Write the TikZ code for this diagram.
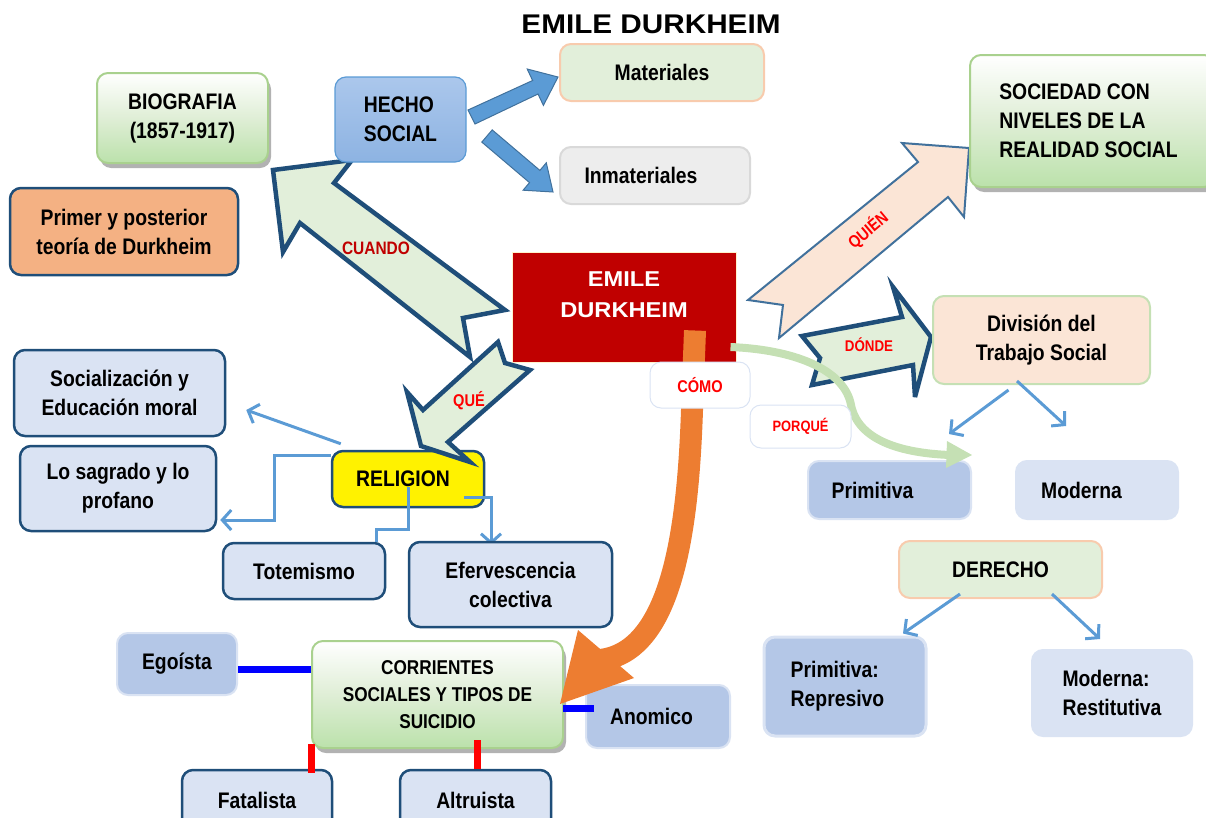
\documentclass[tikz,border=0pt]{standalone}
\usepackage{fontspec}
\setmainfont{Liberation Sans}[FakeStretch=0.86]
\newfontfamily\widefont{Liberation Sans}[FakeStretch=1.1]
\usetikzlibrary{arrows.meta,calc,shadows}
\definecolor{dblue}{HTML}{1F4E79}
\definecolor{lblue}{HTML}{DAE3F3}
\definecolor{mblue}{HTML}{B4C7E7}
\definecolor{sblue}{HTML}{5B9BD5}
\definecolor{hbdark}{HTML}{41719C}
\definecolor{hbtop}{HTML}{ABC7EC}
\definecolor{hbbot}{HTML}{8DB3E2}
\definecolor{pgreen}{HTML}{E2EFDA}
\definecolor{lgreen}{HTML}{C5E0B4}
\definecolor{mgreen}{HTML}{A9D18E}
\definecolor{peach}{HTML}{F8CBAD}
\definecolor{lpeach}{HTML}{FBE5D6}
\definecolor{orng}{HTML}{F4B183}
\definecolor{dorange}{HTML}{ED7D31}
\definecolor{dred}{HTML}{C00000}
\definecolor{qred}{HTML}{FF0000}
\definecolor{lgray}{HTML}{EDEDED}
\definecolor{mgray}{HTML}{D9D9D9}
\definecolor{cream}{HTML}{FFF2CC}
\definecolor{pureblue}{HTML}{0000FF}
\pgfdeclarelayer{bg}
\pgfdeclarelayer{conn}
\pgfdeclarelayer{fg}
\pgfsetlayers{bg,main,conn,fg}
\tikzset{
  bx/.style={rounded corners=11pt, inner sep=0pt, align=center, line width=2pt,
    font=\bfseries\fontsize{22.5}{29}\selectfont},
  navybox/.style={bx, fill=lblue, draw=dblue, line width=2.5pt},
  greenshade/.style={bx, top color=white, bottom color=lgreen!95!green, middle color=lgreen!55!white,
    draw=mgreen, drop shadow={shadow xshift=3pt, shadow yshift=-5pt, fill=black!55, opacity=0.55}},
  bigarr/.style={fill=pgreen, draw=dblue, line width=4.5pt, line join=miter, miter limit=6},
  blockarr/.style={fill=sblue, draw=hbdark, line width=1pt},
  thinarr/.style={draw=sblue, line width=3pt, -{Straight Barb[length=9pt,width=20pt]}},
  thinln/.style={draw=sblue, line width=3pt},
  bline/.style={draw=pureblue, line width=7pt},
  rline/.style={draw=qred, line width=7pt},
  qlabel/.style={font=\bfseries\fontsize{17}{18}\selectfont, text=qred, inner sep=0pt},
}
\begin{document}
\begin{tikzpicture}[x=1pt,y=-1pt]
\useasboundingbox (0,0) rectangle (1206,817);

% ---------- background arrows ----------
\begin{pgfonlayer}{bg}
\draw[bigarr] (273,170) -- (352,160) -- (334,183) -- (505,310) -- (463,318) -- (470,357)
  -- (423,320) -- (300,223) -- (283,252) -- cycle;
\draw[fill=lpeach, draw=hbdark, line width=2pt, line join=miter]
  (969,148) -- (902,143) -- (918,162) -- (748,300) -- (783,305) -- (779,338)
  -- (948,197) -- (964,217) -- cycle;
\draw[bigarr] (802,336) -- (902,317) -- (893,287) -- (931,337) -- (915,397) -- (913,365)
  -- (812,385) -- (820,358) -- cycle;
\draw[blockarr] (475,124) -- (538,94) -- (543.4,105.4) -- (558,77) -- (527.2,69)
  -- (532.6,80.5) -- (468,110) -- cycle;
\draw[blockarr] (481.8,142.1) -- (529.5,182.6) -- (523.1,190.2) -- (553,192) -- (546.3,162.8)
  -- (539.9,170.4) -- (492.2,129.9) -- cycle;
\end{pgfonlayer}

% ---------- title ----------
\node[font=\widefont\bfseries\fontsize{27}{30}\selectfont] (title) at (651,24) {EMILE DURKHEIM};

% ---------- boxes ----------
\node[greenshade, minimum width=171pt, minimum height=90pt] (bio) at (182.5,118) {BIOGRAFIA\\(1857-1917)};
\node[bx, fill=orng, draw=dblue, line width=2.5pt, minimum width=228pt, minimum height=87pt] (primer) at (124,231.5) {Primer y posterior\\teoría de Durkheim};
\node[bx, top color=hbtop, bottom color=hbbot, draw=sblue, line width=1.2pt, minimum width=131pt, minimum height=85pt, align=left] (hecho) at (400.5,119.5) {HECHO\\SOCIAL};
\node[bx, fill=pgreen, draw=peach, minimum width=204pt, minimum height=57pt] (mat) at (662,72.5) {Materiales};
\node[bx, fill=lgray, draw=mgray, minimum width=190pt, minimum height=57pt] (inmat) at (655,175.5) {Inmateriales\hspace*{28pt}};
\node[greenshade, minimum width=245pt, minimum height=132pt, align=left] (soc) at (1092.5,121) {SOCIEDAD CON\\NIVELES DE LA\\REALIDAD SOCIAL\hspace*{8pt}};
\node[bx, rounded corners=0pt, fill=dred, draw=cream, line width=1pt, minimum width=224pt, minimum height=110pt,
  font=\widefont\bfseries\fontsize{21.5}{31}\selectfont, text=white, text depth=24pt] (emile) at (624,307) {EMILE\\DURKHEIM};
\node[bx, fill=lpeach, draw=lgreen, minimum width=217pt, minimum height=88pt] (div) at (1041.5,340) {División del\\Trabajo Social};
\node[bx, fill=mblue, draw=lblue, minimum width=163pt, minimum height=58pt] (prim1) at (889.5,490) {Primitiva\hspace*{34pt}};
\node[bx, fill=lblue, draw=lblue, minimum width=162pt, minimum height=58pt] (mod1) at (1097,490) {Moderna\hspace*{31pt}};
\node[bx, fill=pgreen, draw=peach, minimum width=203pt, minimum height=57pt] (der) at (1000.5,569.5) {DERECHO};
\node[bx, fill=mblue, draw=lblue, line width=3pt, minimum width=162pt, minimum height=99pt, align=left] (prim2) at (845,686.5) {Primitiva:\\Represivo\hspace*{15pt}};
\node[bx, fill=lblue, draw=lblue, minimum width=160pt, minimum height=86pt, align=left] (mod2) at (1112,693) {Moderna:\\Restitutiva};
\node[navybox, minimum width=211pt, minimum height=86pt] (socz) at (119.5,393) {Socialización y\\Educación moral};
\node[navybox, minimum width=196pt, minimum height=85pt] (sagr) at (118,488.5) {Lo sagrado y lo\\profano};
\node[navybox, fill=yellow, minimum width=152pt, minimum height=56pt] (rel) at (408,479) {RELIGION\hspace*{10pt}};
\node[greenshade, font=\bfseries\fontsize{20}{27}\selectfont, minimum width=251pt, minimum height=107pt] (corr) at (437.5,694.5) {CORRIENTES\\SOCIALES Y TIPOS DE\\SUICIDIO};
\node[bx, fill=mblue, draw=lblue, minimum width=120pt, minimum height=62pt] (ego) at (177,664) {Egoísta};
\node[bx, fill=mblue, draw=lblue, minimum width=144pt, minimum height=63pt] (anom) at (658,716.5) {Anomico\hspace*{13pt}};
\node[navybox, minimum width=150pt, minimum height=60pt] (fat) at (257,800) {Fatalista};
\node[navybox, minimum width=151pt, minimum height=60pt] (alt) at (475.5,800) {Altruista};

% ---------- foreground boxes ----------
\begin{pgfonlayer}{fg}
\node[navybox, minimum width=162pt, minimum height=56pt] (tot) at (304,571) {Totemismo};
\node[navybox, minimum width=203pt, minimum height=85pt] (efer) at (510.5,584.5) {Efervescencia\\colectiva};
\node[bx, fill=white, draw=lblue, line width=1pt, minimum width=100pt, minimum height=46pt,
  font=\bfseries\fontsize{17}{20}\selectfont, text=qred] (como) at (700,385) {CÓMO};
\node[bx, fill=white, draw=lblue, line width=1pt, minimum width=101pt, minimum height=43pt,
  font=\bfseries\fontsize{15}{18}\selectfont, text=qred] (porque) at (800.5,426.5) {PORQUÉ};
\node[qlabel, text=dred, font=\bfseries\fontsize{18}{18}\selectfont] (lcuando) at (376,248) {CUANDO};
\node[qlabel] (lque) at (469,401) {QUÉ};
\node[qlabel, font=\bfseries\fontsize{15.5}{18}\selectfont] (ldonde) at (869,345) {DÓNDE};
\node[qlabel, rotate=40, font=\bfseries\fontsize{17}{18}\selectfont] (lquien) at (868,230) {QUIÉN};
\end{pgfonlayer}

% ---------- connectors ----------
\begin{pgfonlayer}{conn}
% QUE arrow
\draw[bigarr] (498,342) -- (505,363) -- (530,370) -- (448,442) -- (470,462) -- (421,446)
  -- (407,392) -- (423,410) -- cycle;
% religion
\draw[thinarr] ($(rel.north west)+(10,-6)$) -- ($(socz.east)+(20,17)$);
\draw[thinarr] ($(rel.west)+(0,-24)$) -| ($(sagr.east)+(57,31.5)$) -- ($(sagr.east)+(3,31.5)$);
\draw[thinln] ($(rel.center)+(0,8)$) |- ($(tot.north east)+(-10,-12)$) -- ($(tot.north east)+(-10,0)$);
\draw[thinarr] ($(rel.east)+(-21,18)$) -| ($(efer.north)+(-19.5,4)$);
% division / derecho
\draw[thinarr] ($(div.south)+(-33,5)$) -- ($(prim1.north)+(59.5,-26)$);
\draw[thinarr] ($(div.south)+(-24.5,-4)$) -- ($(mod1.north)+(-31,-34)$);
\draw[thinarr] ($(der.south)+(-40.5,-5)$) -- ($(prim2.north)+(58,-2)$);
\draw[thinarr] ($(der.south)+(51.5,-5)$) -- ($(mod2.north)+(-12,-10)$);
% suicide types
\coordinate (egoend) at ($(ego.east)+(0,5)$);
\draw[bline] (egoend) -- (egoend -| corr.west);
\coordinate (anomend) at ($(anom.west)+(9,-8.5)$);
\draw[bline] (anomend) -- ($(anomend -| corr.east)+(-1,0)$);
\coordinate (fatend) at ($(fat.north east)+(-22,4)$);
\draw[rline] (fatend) -- ($(fatend |- corr.south)+(0,-5)$);
\coordinate (altend) at ($(alt.north)+(1.5,0)$);
\draw[rline] (altend) -- ($(altend |- corr.south)+(0,-9)$);
% COMO orange arrow
\coordinate (ostart) at ($(emile.south)+(71,-32)$);
\draw[dorange, line width=22pt] (ostart) -- (692,410) .. controls (688,530) and (672,652) .. (600,660);
\fill[dorange] (578,630) -- (560,704) -- (634,678) -- cycle;
% PORQUE green arrow
\coordinate (gstart) at ($(emile.east)+(-6,40)$);
\draw[lgreen, line width=8pt] (gstart) .. controls (800,350) and (845,372) .. (851,405)
  .. controls (858,440) and (900,453) .. (950,455);
\fill[lgreen] (947,441) -- (972,455) -- (946,468) -- cycle;
\end{pgfonlayer}
\end{tikzpicture}
\end{document}
